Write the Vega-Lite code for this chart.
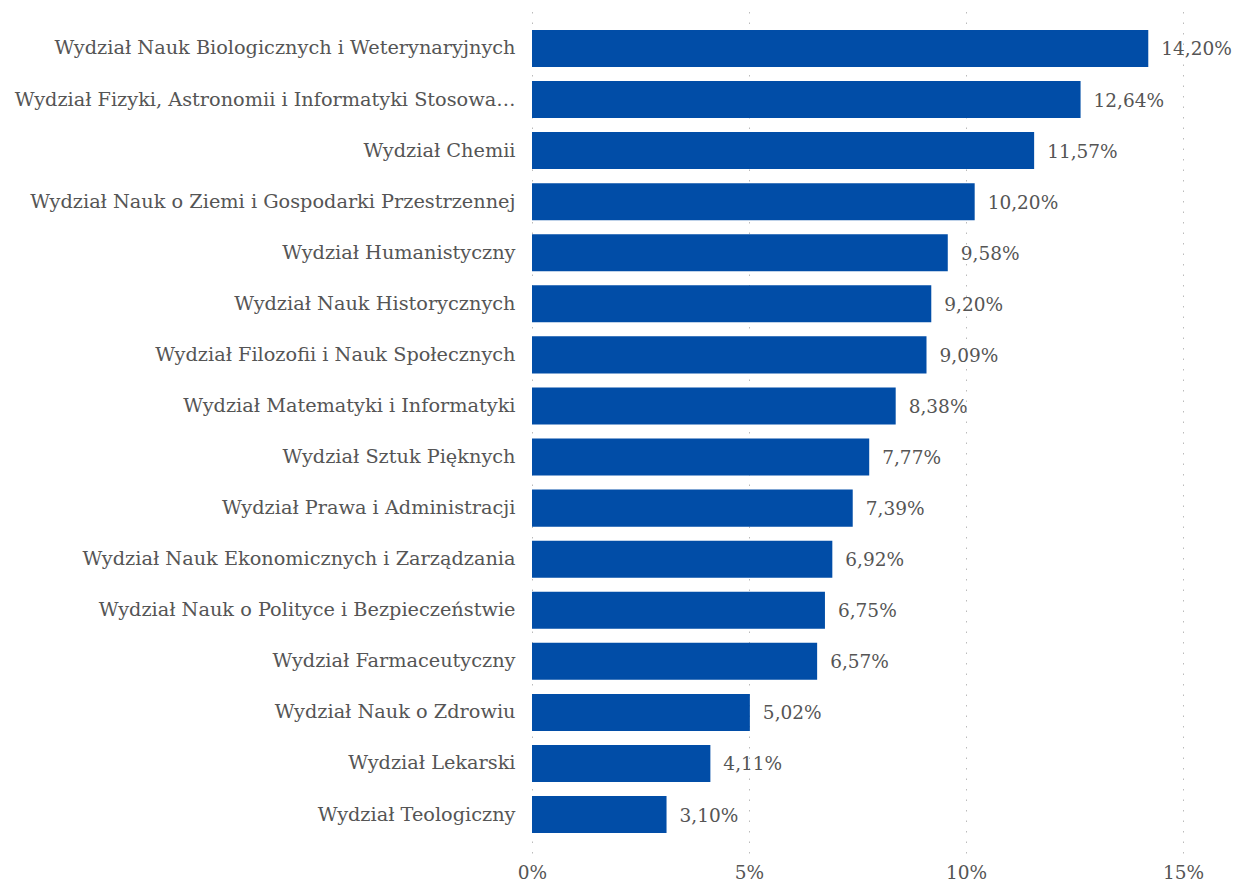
{
  "$schema": "https://vega.github.io/schema/vega-lite/v6.json",
  "autosize": "none",
  "width": 651,
  "height": 843,
  "padding": {"left": 532, "top": 10, "right": 53, "bottom": 33},
  "background": "white",
  "config": {
    "locale": {"number": {"decimal": ",", "thousands": " ", "grouping": [3], "currency": ["", " zł"]}},
    "view": {"stroke": null},
    "font": "DejaVu Serif"
  },
  "data": {
    "values": [
      {"wydzial": "Wydział Nauk Biologicznych i Weterynaryjnych", "v": 0.1420},
      {"wydzial": "Wydział Fizyki, Astronomii i Informatyki Stosowa…", "v": 0.1264},
      {"wydzial": "Wydział Chemii", "v": 0.1157},
      {"wydzial": "Wydział Nauk o Ziemi i Gospodarki Przestrzennej", "v": 0.1020},
      {"wydzial": "Wydział Humanistyczny", "v": 0.0958},
      {"wydzial": "Wydział Nauk Historycznych", "v": 0.0920},
      {"wydzial": "Wydział Filozofii i Nauk Społecznych", "v": 0.0909},
      {"wydzial": "Wydział Matematyki i Informatyki", "v": 0.0838},
      {"wydzial": "Wydział Sztuk Pięknych", "v": 0.0777},
      {"wydzial": "Wydział Prawa i Administracji", "v": 0.0739},
      {"wydzial": "Wydział Nauk Ekonomicznych i Zarządzania", "v": 0.0692},
      {"wydzial": "Wydział Nauk o Polityce i Bezpieczeństwie", "v": 0.0675},
      {"wydzial": "Wydział Farmaceutyczny", "v": 0.0657},
      {"wydzial": "Wydział Nauk o Zdrowiu", "v": 0.0502},
      {"wydzial": "Wydział Lekarski", "v": 0.0411},
      {"wydzial": "Wydział Teologiczny", "v": 0.0310}
    ]
  },
  "encoding": {
    "y": {
      "field": "wydzial", "type": "nominal", "sort": null,
      "scale": {"paddingInner": 0.275, "paddingOuter": 0.39},
      "axis": {"title": null, "domain": false, "ticks": false, "grid": false,
               "labelFont": "DejaVu Serif", "labelFontSize": 19.3, "labelColor": "#555555",
               "labelPadding": 17, "labelLimit": 600}
    },
    "x": {
      "field": "v", "type": "quantitative",
      "scale": {"domain": [0, 0.15], "nice": false},
      "axis": {"title": null, "domain": false, "ticks": false, "format": ".0%",
               "values": [0, 0.05, 0.1, 0.15],
               "grid": true, "gridColor": "#bbbbbb", "gridDash": [1.5, 9], "gridWidth": 1,
               "labelFont": "DejaVu Serif", "labelFontSize": 18.5, "labelColor": "#555555",
               "labelPadding": 10, "labelFlush": false}
    }
  },
  "layer": [
    {"mark": {"type": "bar", "color": "#014DA7"}},
    {"mark": {"type": "text", "align": "left", "baseline": "middle", "dx": 13, "dy": 1,
              "font": "DejaVu Serif", "fontSize": 18.5, "color": "#555555"},
     "encoding": {"text": {"field": "v", "type": "quantitative", "format": ".2%"}}}
  ]
}
